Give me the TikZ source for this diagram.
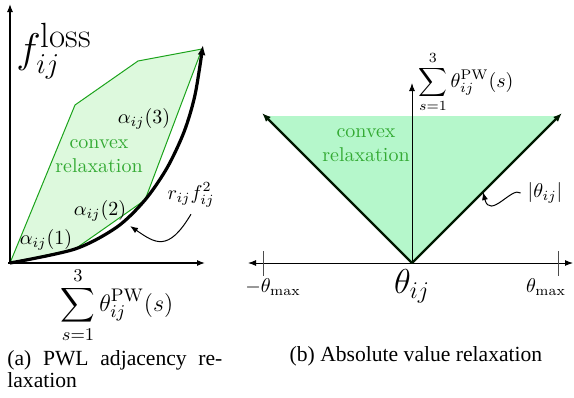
\documentclass[tikz,border=0pt]{standalone}
\usepackage{amsmath}
\usepackage{fontspec}
\newfontfamily\capfont{Liberation Serif}
\definecolor{green1}{HTML}{1BA31B}
\definecolor{green2}{HTML}{33AA33}
\definecolor{palegreen}{HTML}{DDF9DD}
\definecolor{mintgreen}{HTML}{B5F7CB}
\usetikzlibrary{arrows.meta,positioning}

\begin{document}
\begin{tikzpicture}[
  x=0.5pt,y=-0.5pt,
  axis/.style={-{Latex[length=4pt,width=3pt]},line width=0.6pt},
  axisboth/.style={{Latex[length=4pt,width=3pt]}-{Latex[length=4pt,width=3pt]},line width=0.5pt},
  curve/.style={-{Latex[length=5pt,width=4pt]},line width=1.6pt},
  vline/.style={-{Latex[length=4.5pt,width=3.5pt]},line width=1.1pt,color=black!90!green},
  tick/.style={line width=0.5pt,color=black!70},
  relax/.style={align=center,text=green2,font=\normalsize},
  pointer/.style={-{Latex[length=4pt,width=3pt]},line width=0.5pt},
  caption/.style={font=\capfont\fontsize{10.8}{11}\selectfont,inner sep=0pt},
]
  \useasboundingbox (0,0) rectangle (574,397);

  % (a) PWL adjacency relaxation
  \coordinate (o1) at (10,263);
  \coordinate (pA) at (75,249);
  \coordinate (pB) at (145,200);
  \coordinate (pC) at (203,45);
  \filldraw[fill=palegreen,draw=green1,line width=0.5pt]
    (o1) -- (75,105) -- (138,61) -- (202,49) -- (pB) -- (pA) -- cycle;
  \draw[axis] (10,264) -- (10,4);
  \draw[axis] (8,263) -- (205,263);
  \draw[curve] plot[smooth] coordinates {(o1) (pA) (117,227) (pB) (167,168)
    (184,132) (195,95) (pC)};

  \node[font=\fontsize{22}{26}\selectfont] (floss) at (54,51)
    {$f_{ij}^{\hbox{\fontsize{17.5}{18}\selectfont loss}}$};
  \node (a3) at (144,119) {$\alpha_{ij}(3)$};
  \node[relax] (cvxL) at (99,156) {convex\\relaxation};
  \node (a2) at (100,211) {$\alpha_{ij}(2)$};
  \node (a1) at (46,240) {$\alpha_{ij}(1)$};
  \node (rf) at (191,195) {$r_{ij}f_{ij}^2$};
  \node[font=\fontsize{13}{15}\selectfont] (xlabL) at (117,305)
    {$\displaystyle\sum_{s=1}^{3}\theta_{ij}^{\mathrm{PW}}(s)$};

  \coordinate (rftip) at (130,226);
  \draw[pointer] (rf.south) .. controls (168,253) and (155,243) .. (rftip);

  % (b) absolute value relaxation
  \coordinate (o2) at (412,263);
  \coordinate (tl) at (262,113);
  \coordinate (tr) at (562,113);
  \fill[mintgreen] (o2) -- (265,116) -- (559,116) -- cycle;
  \draw[axisboth] (248,263) -- (573,263);
  \draw[axis,line width=0.5pt] (o2) -- (412,83);
  \draw[tick] (263,251) -- (263,276);
  \draw[tick] (558,251) -- (558,276);
  \draw[vline] (o2) -- (tl);
  \draw[vline] (o2) -- (tr);

  \node (ylabR) at (466,82) {$\displaystyle\sum_{s=1}^{3}\theta_{ij}^{\mathrm{PW}}(s)$};
  \node[relax] (cvxR) at (366,145) {convex\\relaxation};
  \node (absv) at (545,193) {$|\theta_{ij}|$};
  \node (tmin) at (273,287) {$-\theta_{\max}$};
  \node (tmax) at (546,287) {$\theta_{\max}$};
  \node[font=\LARGE] (thij) at (412,286) {$\theta_{ij}$};

  \coordinate (abstip) at (483,192);
  \draw[pointer] (absv.west) .. controls (512,186) and (490,220) .. (abstip);

  % captions
  \node[caption,anchor=north west,text width=107.5pt,align=left] (capA) at (7,350)
    {(a)\hfill PWL\hfill adjacency\hfill re-\\laxation};
  \node[caption] (capB) at (416,356) {(b) Absolute value relaxation};
\end{tikzpicture}
\end{document}
